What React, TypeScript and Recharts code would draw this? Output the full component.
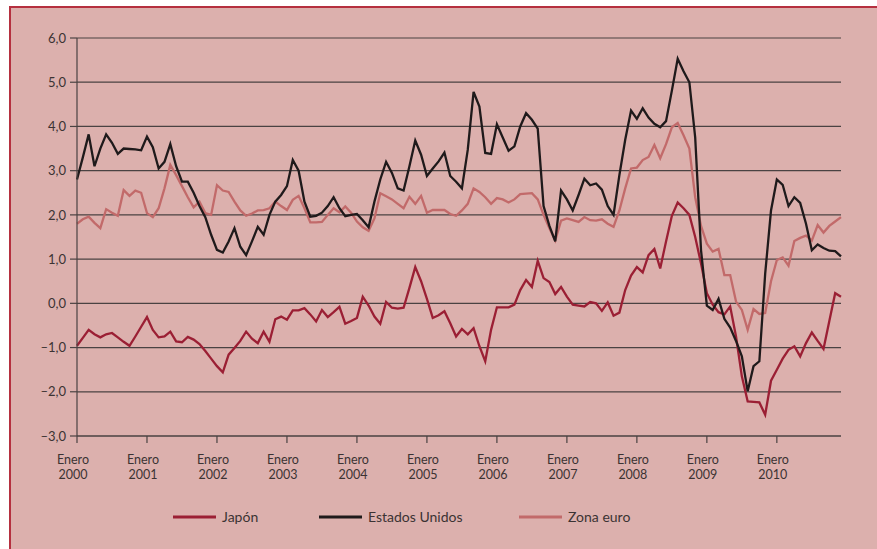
import { LineChart, Line, XAxis, YAxis, CartesianGrid } from "recharts";

// Inflación interanual, enero 2000 - diciembre 2010 (datos mensuales)
const anios = ["2000", "2001", "2002", "2003", "2004", "2005", "2006", "2007", "2008", "2009", "2010"];
const nombresMes = ["ene", "feb", "mar", "abr", "may", "jun", "jul", "ago", "sep", "oct", "nov", "dic"];
const meses = anios.flatMap((a) => nombresMes.map((m) => `${m} ${a}`));

const japon = [
  -0.96, -0.78, -0.6, -0.7, -0.77, -0.7, -0.67, -0.77, -0.87, -0.96,
  -0.75, -0.53, -0.31, -0.6, -0.77, -0.75, -0.64, -0.86, -0.88, -0.76,
  -0.82, -0.92, -1.08, -1.25, -1.42, -1.56, -1.16, -1.01, -0.85, -0.64,
  -0.8, -0.9, -0.64, -0.87, -0.36, -0.3, -0.37, -0.16, -0.16, -0.11,
  -0.25, -0.41, -0.15, -0.31, -0.2, -0.08, -0.46, -0.4, -0.33, 0.15,
  -0.05, -0.3, -0.46, 0.03, -0.1, -0.12, -0.1, 0.35, 0.82, 0.5,
  0.1, -0.33, -0.27, -0.18, -0.45, -0.75, -0.58, -0.7, -0.56, -0.97,
  -1.31, -0.6, -0.09, -0.09, -0.09, -0.03, 0.3, 0.53, 0.37, 0.96,
  0.57, 0.48, 0.21, 0.37, 0.15, -0.03, -0.05, -0.07, 0.03, 0.0,
  -0.17, 0.02, -0.28, -0.21, 0.3, 0.63, 0.82, 0.7, 1.09, 1.23,
  0.79, 1.4, 1.98, 2.28, 2.15, 2.0, 1.5, 0.9, 0.23, -0.03,
  -0.2, -0.25, -0.07, -0.75, -1.65, -2.22, -2.23, -2.24, -2.52, -1.75,
  -1.5, -1.25, -1.05, -0.97, -1.2, -0.9, -0.66, -0.85, -1.03, -0.4,
  0.23, 0.15,
];

const estadosUnidos = [
  2.8, 3.3, 3.82, 3.1, 3.5, 3.82, 3.63, 3.38, 3.5, 3.49,
  3.48, 3.46, 3.77, 3.53, 3.05, 3.2, 3.6, 3.1, 2.75, 2.75,
  2.5, 2.2, 1.95, 1.55, 1.21, 1.15, 1.4, 1.7, 1.28, 1.09,
  1.4, 1.73, 1.55, 2.0, 2.3, 2.45, 2.65, 3.24, 3.0, 2.3,
  1.96, 1.98, 2.05, 2.2, 2.4, 2.15, 1.97, 2.0, 2.02, 1.88,
  1.72, 2.3, 2.8, 3.2, 2.95, 2.6, 2.55, 3.1, 3.68, 3.36,
  2.88, 3.05, 3.21, 3.41, 2.88, 2.75, 2.6, 3.47, 4.78, 4.45,
  3.4, 3.38, 4.05, 3.75, 3.45, 3.55, 4.0, 4.3, 4.15, 3.95,
  2.2, 1.75, 1.4, 2.55, 2.35, 2.1, 2.45, 2.82, 2.67, 2.71,
  2.57, 2.2, 2.0, 2.9, 3.7, 4.36, 4.17, 4.41, 4.2, 4.06,
  3.98, 4.12, 4.81, 5.53, 5.25, 5.0, 3.75, 1.2, -0.05, -0.15,
  0.1, -0.35, -0.55, -0.85, -1.2, -1.99, -1.42, -1.31, 0.67, 2.1,
  2.8, 2.68, 2.2, 2.4, 2.27, 1.8, 1.2, 1.33, 1.25, 1.19,
  1.18, 1.06,
];

const zonaEuro = [
  1.8, 1.9, 1.96, 1.82, 1.7, 2.13, 2.05, 1.98, 2.56, 2.43,
  2.55, 2.5, 2.04, 1.95, 2.15, 2.6, 3.13, 2.9, 2.65, 2.4,
  2.17, 2.3, 2.04, 2.0, 2.67, 2.55, 2.52, 2.3, 2.1, 1.98,
  2.03, 2.1, 2.11, 2.15, 2.3, 2.2, 2.11, 2.34, 2.43, 2.15,
  1.83, 1.83, 1.84, 2.0, 2.15, 2.06, 2.19, 2.05, 1.85, 1.72,
  1.64, 1.92, 2.49, 2.42, 2.35, 2.25, 2.15, 2.41, 2.25, 2.43,
  2.05, 2.11, 2.11, 2.11, 2.02, 1.98, 2.1, 2.25, 2.6, 2.52,
  2.4, 2.25, 2.38, 2.35, 2.28, 2.35, 2.47, 2.48, 2.49, 2.35,
  2.0, 1.7, 1.42, 1.87, 1.92, 1.88, 1.84, 1.95, 1.88, 1.87,
  1.9, 1.8, 1.73, 2.1, 2.6, 3.05, 3.07, 3.24, 3.31, 3.58,
  3.28, 3.6, 3.98, 4.08, 3.8, 3.5, 2.4, 1.75, 1.35, 1.17,
  1.23, 0.64, 0.64, 0.04, -0.15, -0.6, -0.13, -0.24, -0.22, 0.5,
  0.98, 1.04, 0.85, 1.41, 1.48, 1.53, 1.42, 1.77, 1.6, 1.75,
  1.85, 1.95,
];

const yTicks = [-3, -2, -1, 0, 1, 2, 3, 4, 5, 6];
const xTicks = anios.map((_, k) => k * 12);

const FONT = "Lato, 'Open Sans', sans-serif";
const TEXT = "#3b3333";
const GRID = "#4a4242";
const BG = "#dcb0ad";
const C_JAPON = "#9b1f34";
const C_EEUU = "#1f1a1b";
const C_EURO = "#c26a6a";

const data = meses.map((mes, i) => ({
  i,
  mes,
  japon: japon[i],
  eeuu: estadosUnidos[i],
  euro: zonaEuro[i],
}));

const fmtY = (v: number) => (v < 0 ? "–" : "") + Math.abs(v).toFixed(1).replace(".", ",");

function XTick(props: any) {
  const { x, y, payload } = props;
  const anio = anios[Math.round(payload.value / 12)];
  return (
    <g>
      <text x={x - 4} y={y + 19} textAnchor="middle" fill={TEXT} fontSize={12.5} fontFamily={FONT}>
        Enero
      </text>
      <text x={x - 4} y={y + 33.5} textAnchor="middle" fill={TEXT} fontSize={12.5} fontFamily={FONT}>
        {anio}
      </text>
    </g>
  );
}

const leyenda = [
  { nombre: "Japón", color: C_JAPON, x: 173 },
  { nombre: "Estados Unidos", color: C_EEUU, x: 319 },
  { nombre: "Zona euro", color: C_EURO, x: 519 },
];

export default function App() {
  return (
    <div style={{ position: "absolute", left: 0, top: 0, width: 877, height: 549, background: "#fff", overflow: "hidden" }}>
      <div
        style={{
          position: "absolute",
          left: 9,
          top: 6,
          width: 870,
          height: 545,
          background: BG,
          borderLeft: "2px solid #b5303f",
          borderTop: "2px solid #b5303f",
        }}
      />
      <div style={{ position: "absolute", left: 0, top: 0 }}>
        <LineChart width={877} height={549} data={data} margin={{ top: 38, right: 36, left: 17, bottom: 83 }}>
          <CartesianGrid vertical={false} stroke={GRID} strokeWidth={1.2} />
          <XAxis
            dataKey="i"
            type="number"
            domain={[0, 131]}
            ticks={xTicks}
            interval={0}
            height={30}
            tickSize={7}
            axisLine={{ stroke: GRID, strokeWidth: 1.2 }}
            tickLine={{ stroke: GRID, strokeWidth: 1.2 }}
            tick={<XTick />}
          />
          <YAxis
            type="number"
            domain={[-3, 6]}
            ticks={yTicks}
            interval={0}
            width={60}
            tickSize={7}
            tickMargin={4}
            tickFormatter={fmtY}
            axisLine={{ stroke: GRID, strokeWidth: 1.2 }}
            tickLine={{ stroke: GRID, strokeWidth: 1.2 }}
            tick={{ fontSize: 13, fill: TEXT, fontFamily: FONT }}
          />
          <Line type="linear" dataKey="euro" stroke={C_EURO} strokeWidth={2.3} dot={false} isAnimationActive={false} />
          <Line type="linear" dataKey="japon" stroke={C_JAPON} strokeWidth={2.3} dot={false} isAnimationActive={false} />
          <Line type="linear" dataKey="eeuu" stroke={C_EEUU} strokeWidth={2.3} dot={false} isAnimationActive={false} />
        </LineChart>
      </div>
      <svg width={877} height={549} style={{ position: "absolute", left: 0, top: 0, pointerEvents: "none" }}>
        {leyenda.map((l) => (
          <g key={l.nombre}>
            <line x1={l.x} x2={l.x + 43} y1={517} y2={517} stroke={l.color} strokeWidth={3} />
            <text x={l.x + 49} y={522} fontSize={14} fontFamily={FONT} fill={TEXT}>
              {l.nombre}
            </text>
          </g>
        ))}
      </svg>
    </div>
  );
}
